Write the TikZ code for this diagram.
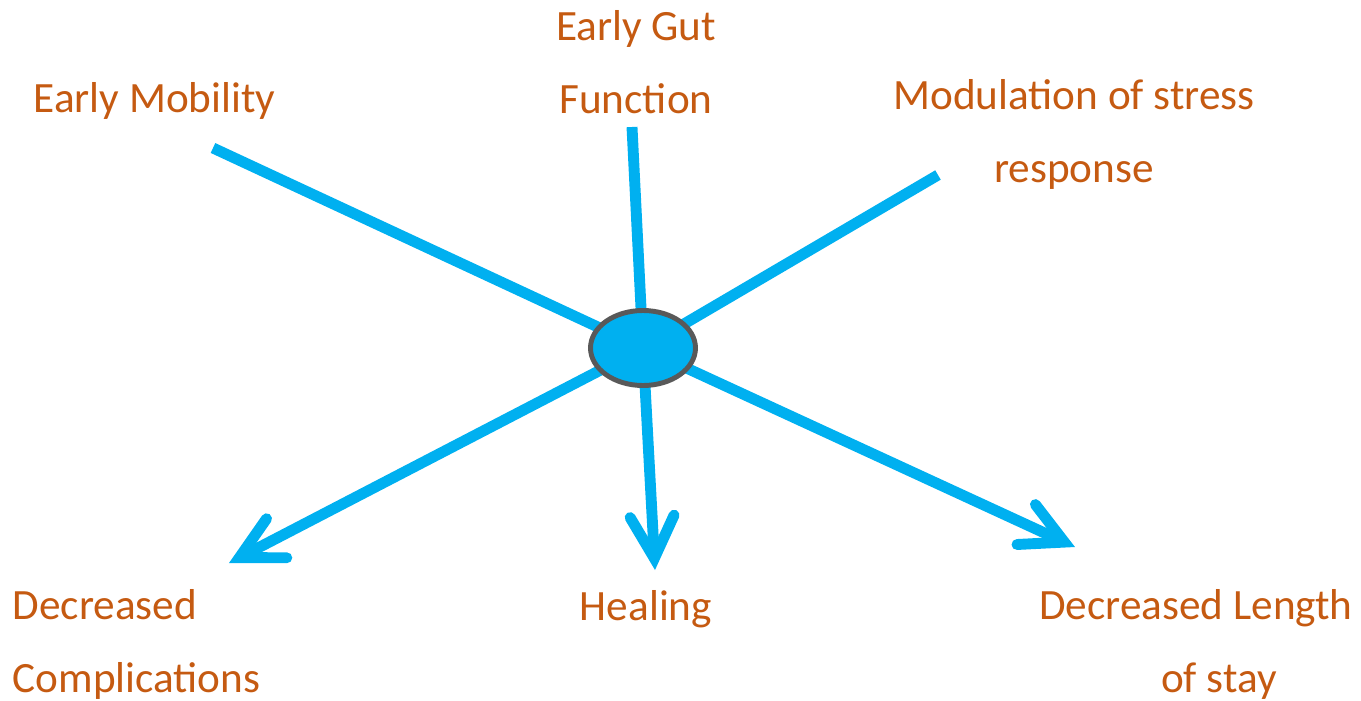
\documentclass[tikz,border=0pt]{standalone}
\usepackage{fontspec}
\setmainfont{Carlito}
\usepackage{tikz}
\usetikzlibrary{arrows.meta}
\usetikzlibrary{shapes.geometric}
\definecolor{spokeblue}{HTML}{00B0F0}
\definecolor{labelorange}{HTML}{C55A11}
\definecolor{rimgray}{HTML}{595959}
\tikzset{spoke/.style={draw=spokeblue, line width=3.1pt}}
\tikzset{tip/.style={-{Straight Barb[length=4.2mm, width=4.4mm, line cap=round, line join=miter]}}}
\tikzset{lbl/.style={text=labelorange, inner sep=0pt, font=\fontsize{12.3}{20.7}\selectfont}}

\begin{document}
\begin{tikzpicture}[scale=1]
    \useasboundingbox (0, 0) rectangle (13.61, 7);
    \coordinate (hubc) at (6.43, 3.52);
    \coordinate (mob) at (2.13, 5.52);
    \coordinate (gut) at (6.32, 5.73);
    \coordinate (mod) at (9.38, 5.25);
    \coordinate (cmp) at (2.29, 1.37);
    \coordinate (heal) at (6.55, 1.30);
    \coordinate (stay) at (10.75, 1.53);

    \draw[spoke] (mob) -- (hubc);
    \draw[spoke] (gut) -- (hubc);
    \draw[spoke] (mod) -- (hubc);
    \draw[spoke, tip] (hubc) -- (cmp);
    \draw[spoke, tip] (hubc) -- (heal);
    \draw[spoke, tip] (hubc) -- (stay);

    \node[ellipse, draw=rimgray, line width=1.4pt, fill=spokeblue,
          minimum width=1.05cm, minimum height=0.75cm, inner sep=0pt] at (hubc) (hub) {};

    % multi-line labels sit on the baseline of their last line
    \node[lbl, anchor=base west] at (0.33, 5.88) (Lmob) {Early Mobility};
    \node[lbl, anchor=base, align=center] at (6.36, 5.87) (Lgut) {Early Gut\\Function};
    \node[lbl, anchor=base, align=center] at (10.74, 5.18) (Lmod) {Modulation of stress\\response};
    \node[lbl, anchor=base west, align=left] at (0.12, 0.08) (Lcmp) {Decreased\\Complications};
    \node[lbl, anchor=base] at (6.46, 0.80) (Lheal) {Healing};
    \node[lbl, anchor=base, align=center] at (11.96, 0.08) (Lstay) {Decreased Length\\\hspace*{0.46cm}of stay};
  \end{tikzpicture}
\end{document}
